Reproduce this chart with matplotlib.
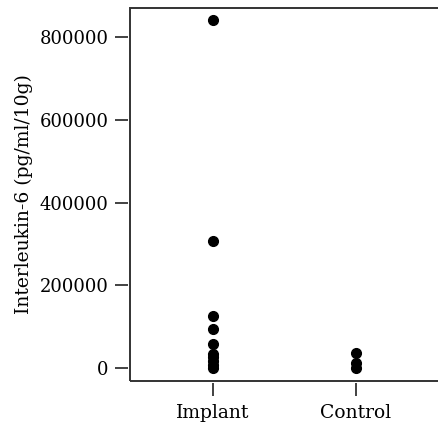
import matplotlib
matplotlib.use("Agg")
import matplotlib.pyplot as plt
from matplotlib.patches import Rectangle

groups = ["Implant", "Control"]
implant = [840000, 308000, 125000, 94000, 58000, 34000, 26000, 17000, 8000, 0]
control = [36000, 13000, 0]
yticks = [0, 200000, 400000, 600000, 800000]

plt.rcParams['font.family'] = ['DejaVu Serif']

fig = plt.figure(figsize=(4.38, 4.25), dpi=100)
ax = fig.add_axes([130/438, 44/425, 1.0 - 130/438, 373/425])

ax.plot([1]*len(implant), implant, 'o', color='black', markersize=7)
ax.plot([2]*len(control), control, 'o', color='black', markersize=7)

ax.set_xlim(0.42, 2.573)
ax.set_ylim(-31400, 870100)

# box drawn by hand, spines pushed out so ticks sit off the box like R
ax.add_patch(Rectangle((0, 0), 1.2, 1, transform=ax.transAxes, fill=False,
                       edgecolor='#333333', linewidth=1.4, clip_on=False))
for s in ['top', 'right']:
    ax.spines[s].set_visible(False)
for s in ['left', 'bottom']:
    ax.spines[s].set_position(('outward', 1.5))
    ax.spines[s].set_visible(False)

ax.set_xticks([1, 2])
ax.set_xticklabels(groups)
ax.set_yticks(yticks)
ax.set_yticklabels([str(v) for v in yticks])
ax.tick_params(direction='out', length=9.5, width=1.3, color='#333333',
               labelsize=13, pad=4.5)
ax.tick_params(axis='x', labelsize=13.5, pad=5.5)
ax.set_ylabel("Interleukin-6 (pg/ml/10g)", fontsize=13.5, labelpad=5)

fig.savefig("out.png", dpi=100)
